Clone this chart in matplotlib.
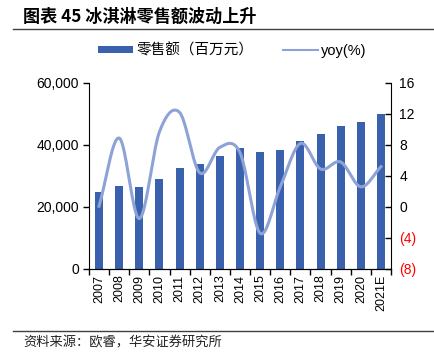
import numpy as np
import matplotlib
matplotlib.use('Agg')
from matplotlib import pyplot as plt
from matplotlib.ticker import FuncFormatter, FixedLocator
from matplotlib.lines import Line2D
from matplotlib.patches import Patch

plt.rcParams['font.family'] = ['Liberation Sans', 'Noto Sans CJK SC', 'DejaVu Sans']

## DATA ##
years = ['2007', '2008', '2009', '2010', '2011', '2012', '2013', '2014',
         '2015', '2016', '2017', '2018', '2019', '2020', '2021E']
sales = [24700, 26900, 26400, 29000, 32600, 33900, 36600, 38900,
         37600, 38300, 41400, 43500, 46100, 47300, 50000]
yoy = [0.1, 8.9, -1.5, 9.7, 12.2, 4.4, 7.7, 7.0,
       -3.4, 2.6, 8.2, 4.9, 5.8, 2.6, 5.2]

bar_color = '#3A61AD'
line_color = '#8DA3D8'
cjk = ['Noto Sans CJK SC', 'DejaVu Sans']


def smooth(x, y, n=20):
    '''Catmull-Rom style curve through the points (like an Excel smoothed line)'''
    x = np.asarray(x, float)
    y = np.asarray(y, float)
    px = np.concatenate([[2 * x[0] - x[1]], x, [2 * x[-1] - x[-2]]])
    py = np.concatenate([[2 * y[0] - y[1]], y, [2 * y[-1] - y[-2]]])
    xs, ys = [], []
    t = np.linspace(0, 1, n, endpoint=False)
    for i in range(1, len(px) - 2):
        for arr, out in ((px, xs), (py, ys)):
            p0, p1, p2, p3 = arr[i - 1], arr[i], arr[i + 1], arr[i + 2]
            out.extend(0.5 * ((2 * p1) + (-p0 + p2) * t
                              + (2 * p0 - 5 * p1 + 4 * p2 - p3) * t ** 2
                              + (-p0 + 3 * p1 - 3 * p2 + p3) * t ** 3))
    xs.append(x[-1])
    ys.append(y[-1])
    return np.array(xs), np.array(ys)


fig = plt.figure(figsize=(4.34, 3.53), dpi=100)
ax = fig.add_axes([0.205, 0.238, 0.696, 0.527])
x = np.arange(len(years))

ax.bar(x, sales, width=0.4, color=bar_color, zorder=2)
ax.set_ylim(0, 60000)
ax.set_xlim(-0.5, len(years) - 0.5)
ax.set_yticks([0, 20000, 40000, 60000])
ax.yaxis.set_major_formatter(FuncFormatter(lambda v, p: '{:,.0f}'.format(v)))
ax.set_xticks(x)
ax.set_xticklabels(years, rotation=90, fontsize=9)
ax.xaxis.set_minor_locator(FixedLocator(np.arange(-0.5, len(years), 1)))
ax.tick_params(axis='x', which='major', length=0, pad=4)
ax.tick_params(axis='x', which='minor', length=4, width=1, direction='out')
ax.tick_params(axis='y', labelsize=10, length=4, width=1, direction='out', pad=3)
ax.spines['top'].set_visible(False)
ax.spines['right'].set_visible(False)

ax2 = ax.twinx()
xs, ys = smooth(x, yoy)
ax2.plot(xs, ys, color=line_color, lw=2.2, zorder=3)
ax2.set_ylim(-8, 16)
ax2.set_yticks([-8, -4, 0, 4, 8, 12, 16])
ax2.yaxis.set_major_formatter(FuncFormatter(
    lambda v, p: '({:.0f})'.format(-v) if v < 0 else '{:.0f}'.format(v)))
ax2.tick_params(axis='y', labelsize=10, length=4, width=1, direction='in', pad=6)
for lab, v in zip(ax2.get_yticklabels(), ax2.get_yticks()):
    if v < 0:
        lab.set_color('#FF0000')
ax2.spines['top'].set_visible(False)
ax2.spines['left'].set_visible(False)

handles = [Patch(facecolor=bar_color, edgecolor='none'),
           Line2D([0], [0], color=line_color, lw=1.5)]
leg = fig.legend(handles, ['零售额（百万元）', 'yoy(%)'], loc='center',
                 bbox_to_anchor=(0.535, 0.857), ncol=2, frameon=False,
                 fontsize=10.5, handlelength=2.4, handleheight=0.35, columnspacing=2.0,
                 handletextpad=0.2)
leg.get_texts()[0].set_family(cjk)

# title and source
fig.text(0.053, 0.952, '图表 45 冰淇淋零售额波动上升', fontsize=12.3, fontweight='bold',
         family=cjk, va='center', ha='left')
fig.add_artist(Line2D([0.03, 1.0], [0.918, 0.918], color='#404040', lw=1))
fig.add_artist(Line2D([0.03, 1.0], [0.062, 0.062], color='#404040', lw=1))
fig.text(0.053, 0.028, '资料来源：欧睿，华安证券研究所', fontsize=9.5,
         family=cjk, va='center', ha='left', color='#222222')

fig.savefig('out.png', dpi=100)
